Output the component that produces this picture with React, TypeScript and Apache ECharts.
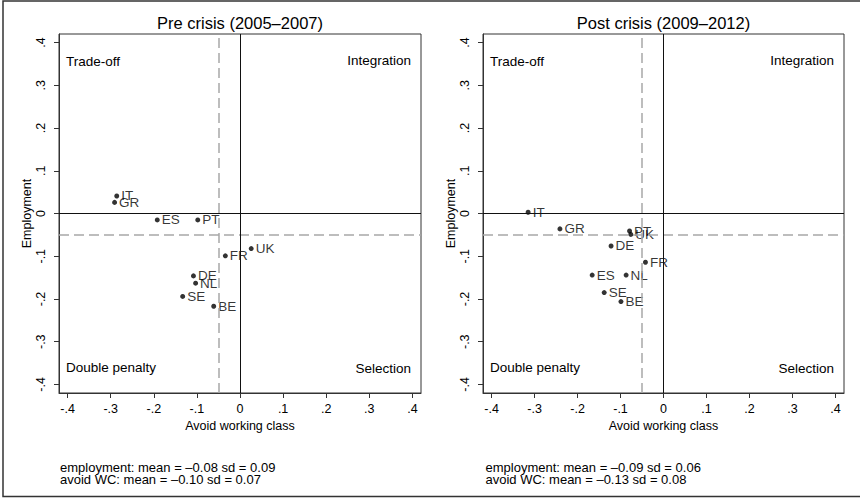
import React, { useEffect, useRef } from "react";
import * as echarts from "echarts";

const countries = ["IT", "GR", "ES", "PT", "FR", "UK", "DE", "NL", "SE", "BE"];
const preX = [-0.286, -0.291, -0.192, -0.098, -0.034, 0.026, -0.108, -0.103, -0.133, -0.061];
const preY = [0.041, 0.026, -0.015, -0.015, -0.099, -0.082, -0.146, -0.163, -0.194, -0.217];
const postX = [-0.315, -0.241, -0.166, -0.079, -0.042, -0.076, -0.122, -0.087, -0.138, -0.099];
const postY = [0.003, -0.036, -0.144, -0.041, -0.114, -0.049, -0.076, -0.144, -0.185, -0.206];
const tickValues = [-0.4, -0.3, -0.2, -0.1, 0, 0.1, 0.2, 0.3, 0.4];
const titles = ["Pre crisis (2005\u20132007)", "Post crisis (2009\u20132012)"];
const notes = [
  ["employment: mean = \u20130.08 sd = 0.09", "avoid WC: mean = \u20130.10 sd = 0.07"],
  ["employment: mean = \u20130.09 sd = 0.06", "avoid WC: mean = \u20130.13 sd = 0.08"],
];
const quadrants = ["Trade-off", "Integration", "Double penalty", "Selection"];
const refLine = -0.05;

const FONT = "'Liberation Sans', Arial, Helvetica, sans-serif";

const fmt = (v: number) => {
  if (Math.abs(v) < 1e-9) return "0";
  return (v < 0 ? "-" : "") + "." + Math.round(Math.abs(v) * 10);
};

export default function App() {
  const ref = useRef<HTMLDivElement>(null);
  useEffect(() => {
    if (!ref.current) return;
    const chart = echarts.init(ref.current, null, { renderer: "svg" });
    const grids = [
      { left: 59, top: 34, width: 362, height: 359 },
      { left: 483, top: 34, width: 361, height: 359 },
    ];
    const axisCommon = {
      type: "value",
      min: -0.42,
      max: 0.42,
      splitLine: { show: false },
      axisLine: { show: true, onZero: false, lineStyle: { color: "#333", width: 1 } },
      axisTick: { show: true, customValues: tickValues, length: 5, lineStyle: { color: "#333" } },
      nameTextStyle: { color: "#000", fontSize: 12.5, fontFamily: FONT },
    };
    const xAxes = grids.map((_, i) => ({
      ...axisCommon,
      gridIndex: i,
      position: "bottom",
      name: "Avoid working class",
      nameLocation: "middle",
      nameGap: 19,
      axisLabel: {
        customValues: tickValues,
        formatter: fmt,
        color: "#000",
        fontSize: 12.5,
        fontFamily: FONT,
        margin: 9,
      },
    }));
    const yAxes = grids.map((_, i) => ({
      ...axisCommon,
      gridIndex: i,
      position: "left",
      name: "Employment",
      nameLocation: "middle",
      nameGap: 22,
      axisLabel: {
        customValues: tickValues,
        formatter: fmt,
        rotate: 90,
        color: "#000",
        fontSize: 12.5,
        fontFamily: FONT,
        margin: 12,
      },
    }));
    const mk = () => ({
      silent: true,
      symbol: "none",
      animation: false,
      label: { show: false },
      data: [
        { xAxis: refLine, lineStyle: { color: "#a8a8a8", type: [10, 5], width: 1.5 } },
        { yAxis: refLine, lineStyle: { color: "#a8a8a8", type: [10, 5], width: 1.5 } },
        { xAxis: 0, lineStyle: { color: "#111", type: "solid", width: 1 } },
        { yAxis: 0, lineStyle: { color: "#111", type: "solid", width: 1 } },
      ],
    });
    const seriesData = [
      countries.map((c, k) => ({ name: c, value: [preX[k], preY[k]] })),
      countries.map((c, k) => ({ name: c, value: [postX[k], postY[k]] })),
    ];
    const series = seriesData.map((d, i) => ({
      type: "scatter",
      xAxisIndex: i,
      yAxisIndex: i,
      data: d,
      symbolSize: 5,
      itemStyle: { color: "#000" },
      label: {
        show: true,
        position: "right",
        distance: 2,
        formatter: "{b}",
        color: "#000",
        fontSize: 13.5,
        fontFamily: FONT,
      },
      markLine: mk(),
      z: 3,
    }));

    const graphics: any[] = [
      {
        type: "rect",
        shape: { x: 3, y: 1, width: 880, height: 495.5 },
        style: { fill: "none", stroke: "#333", lineWidth: 1.5 },
        silent: true,
      },
    ];
    const txt = (x: number, y: number, text: string, align: string, size: number) => ({
      type: "text",
      x,
      y,
      style: { text, textAlign: align, textVerticalAlign: "middle", fontSize: size, fontFamily: FONT, fill: "#000" },
    });
    grids.forEach((g, i) => {
      const cx = g.left + g.width / 2;
      graphics.push(txt(cx, 23, titles[i], "center", 16.5));
      const lx = g.left + 7;
      const rx = g.left + g.width - 10;
      graphics.push(
        txt(lx, 61, quadrants[0], "left", 13.5),
        txt(rx, 60, quadrants[1], "right", 13.5),
        txt(lx, 367, quadrants[2], "left", 13.5),
        txt(rx, 368, quadrants[3], "right", 13.5)
      );
      const nx = i === 0 ? 60 : 485.5;
      graphics.push(txt(nx, 467, notes[i][0], "left", 13), txt(nx, 479, notes[i][1], "left", 13));
    });

    chart.setOption({
      animation: false,
      backgroundColor: "#fff",
      textStyle: { fontFamily: FONT },
      grid: grids.map((g) => ({ ...g, show: true, borderColor: "#333", borderWidth: 1, backgroundColor: "#fff" })),
      xAxis: xAxes,
      yAxis: yAxes,
      series,
      graphic: graphics,
    });
    return () => chart.dispose();
  }, []);
  return (
    <div
      ref={ref}
      style={{ position: "fixed", left: 0, top: 0, width: 860, height: 498, background: "#fff" }}
    />
  );
}
